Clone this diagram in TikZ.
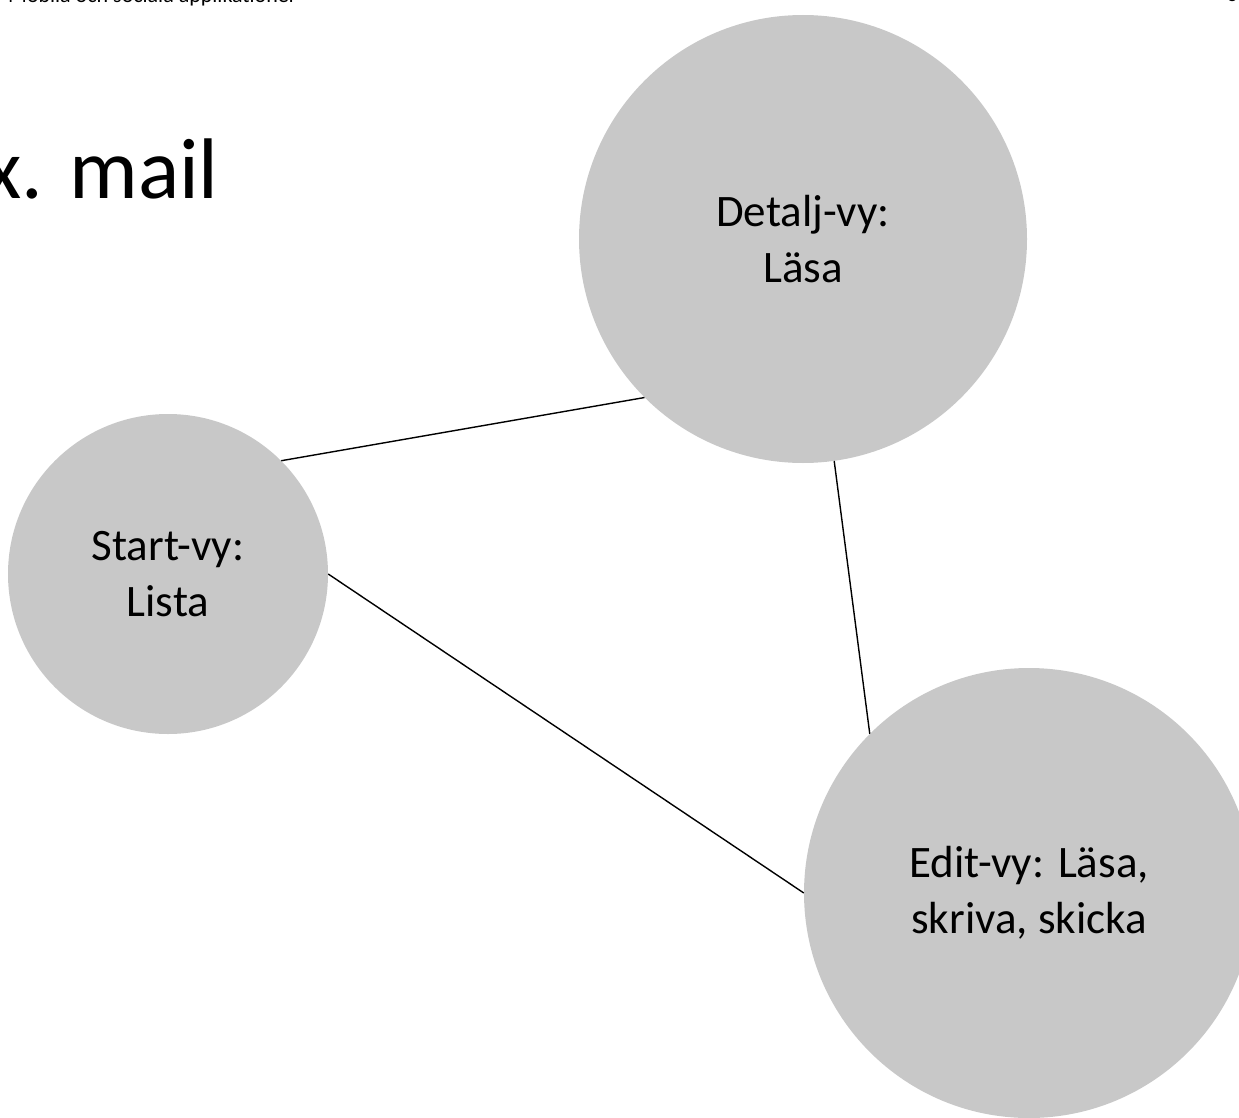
\documentclass[tikz,border=0pt]{standalone}
\usepackage{fontspec}
\setmainfont{Carlito}
\usepackage{tikz}

\definecolor{vygrey}{RGB}{200,200,200}

\begin{document}
\begin{tikzpicture}[x=1pt,y=-1pt]
	\tikzstyle{every node}+=[inner sep=0pt]
	\tikzstyle{vy}=[circle,fill=vygrey,align=center,font=\fontsize{45}{56}\selectfont]
	\tikzstyle{link}=[black,line width=1.4pt]
	\useasboundingbox (0,0) rectangle (1239,1118);
	\clip (0,0) rectangle (1239,1118);
	% slide texts, cut off by the frame
	\node[anchor=base west,font=\fontsize{22}{26}\selectfont] (header) at (8,3) {Mobila och sociala applikationer};
	\node[anchor=base east,font=\fontsize{22}{26}\selectfont] (pagenr) at (1238,2) {6};
	\node[anchor=base east,font=\fontsize{86}{100}\selectfont] (rubrik) at (219,199) {x. mail};
	% views
	\node[vy,minimum size=448pt] (detalj) at (803,239) {Detalj-vy:\\Läsa};
	\node[vy,minimum size=320pt] (start) at (168,574) {Start-vy:\\Lista};
	\node[vy,minimum size=450pt] (edit) at (1029,893) {Edit-vy: Läsa,\\skriva, skicka};
	% connections
	\draw [link] (start.45) -- (detalj.225);
	\draw [link] (start.0) -- (edit.180);
	\draw [link] (detalj.-82) -- (edit.135);
\end{tikzpicture}
\end{document}
